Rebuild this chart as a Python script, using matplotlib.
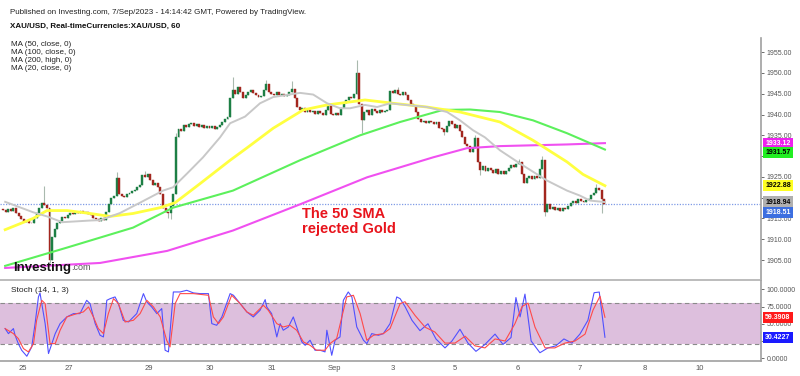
import numpy as np
import matplotlib.pyplot as plt

plt.rcParams['font.family'] = ['Liberation Sans', 'DejaVu Sans']

# ---- data (x = hourly bar index) ----
first_open = 1917.3
closes = [
    1917.0, 1916.5, 1917.2, 1916.8, 1917.5, 1916.2, 1915.5, 1914.8, 1914.2, 1914.5,
    1914.0, 1913.8, 1915.0, 1916.2, 1917.5, 1918.6, 1918.2, 1917.5, 1905.0, 1910.5,
    1912.5, 1913.8, 1914.5, 1915.3, 1915.0, 1915.8, 1916.2, 1916.0, 1916.5, 1916.2,
    1916.8, 1916.3, 1916.6, 1916.0, 1915.8, 1915.2, 1914.8, 1914.5, 1915.0, 1914.6,
    1916.5, 1918.5, 1920.0, 1920.5, 1924.8, 1921.0, 1920.5, 1920.2, 1920.8, 1921.2,
    1921.5, 1921.8, 1922.5, 1923.0, 1925.5, 1925.0, 1925.6, 1924.2, 1923.0, 1923.6,
    1922.5, 1920.8, 1917.5, 1916.5, 1916.2, 1918.0, 1921.0, 1934.5, 1936.5, 1936.0,
    1937.5, 1937.0, 1937.8, 1938.0, 1937.2, 1937.6, 1937.0, 1937.4, 1936.8, 1937.3,
    1936.8, 1937.2, 1936.5, 1937.0, 1937.5, 1938.2, 1939.0, 1939.4, 1944.0, 1946.0,
    1945.0, 1946.5, 1945.5, 1944.0, 1944.6, 1945.5, 1946.0, 1945.2, 1944.8, 1944.2,
    1944.5, 1946.0, 1947.3, 1945.5, 1945.0, 1944.8, 1945.3, 1944.6, 1945.0, 1944.4,
    1944.8, 1945.5, 1946.2, 1944.0, 1941.8, 1941.0, 1941.5, 1940.5, 1941.0, 1940.5,
    1940.8, 1940.2, 1940.9, 1940.4, 1940.0, 1941.0, 1942.6, 1940.2, 1939.8, 1940.4,
    1940.0, 1941.5, 1942.8, 1943.5, 1944.2, 1944.0, 1945.0, 1950.0, 1942.5, 1938.6,
    1940.5, 1941.2, 1940.0, 1941.3, 1940.8, 1940.3, 1941.0, 1940.6, 1940.9, 1941.2,
    1945.6, 1945.2, 1945.8, 1945.0, 1944.8, 1945.3, 1944.6, 1943.5, 1942.6, 1942.0,
    1940.5, 1938.8, 1938.3, 1938.5, 1938.0, 1938.4, 1938.1, 1937.8, 1938.2, 1936.8,
    1936.5, 1935.7, 1937.2, 1938.4, 1937.8, 1936.8, 1937.5, 1936.0, 1934.5, 1933.0,
    1932.4, 1931.0, 1932.0, 1934.3, 1928.5, 1926.6, 1927.5, 1926.5, 1927.2, 1926.6,
    1926.0, 1926.8, 1925.8, 1926.4, 1925.6, 1926.5, 1927.2, 1927.8, 1927.4, 1928.0,
    1928.6, 1925.8, 1923.6, 1924.8, 1925.3, 1924.6, 1925.2, 1924.8, 1927.0, 1929.0,
    1916.6, 1918.4, 1917.2, 1917.8, 1917.0, 1917.6, 1916.8, 1917.5, 1917.2, 1917.9,
    1918.6, 1919.2, 1918.8, 1919.6, 1919.3, 1919.0, 1919.4, 1919.8, 1920.6, 1921.2,
    1922.3, 1921.8, 1919.6, 1918.5,
]

# the longer wicks that stand out
wick_idx = [16, 18, 44, 55, 64, 65, 67, 89, 102, 112, 137, 139, 153, 171, 183, 185, 200, 209, 210, 230, 232]
wick_high = [1922.7, None, 1926.1, 1926.5, None, None, 1935.5, 1949.0, 1948.2, 1948.0, 1953.1, None,
             1946.5, None, 1935.0, None, 1929.2, 1930.0, None, 1923.4, None]
wick_low = [None, 1904.3, None, None, 1915.0, 1914.8, None, None, None, None, None, 1935.5,
            None, 1935.0, None, 1925.5, None, None, 1915.5, None, 1916.4]

# moving averages
ma20_x = [0.8, 11.6, 17, 22.9, 33.7, 37.6, 42.6, 45.3, 53.1, 62, 65.9, 71.3, 77.5, 84.1, 88, 93.8, 99.6,
          104.7, 115.1, 120.2, 125.6, 130.6, 134.5, 140.3, 145, 150, 164.3, 172.1, 177.1, 182.2, 186.8,
          192.6, 200.4, 210.9, 218.6, 223.6, 227.5, 233.3]
ma20_y = [1919.0, 1916.5, 1915.5, 1914.1, 1914.5, 1914.6, 1915.7, 1916.3, 1918.8, 1921.7, 1922.5, 1925.8,
          1929.7, 1934.5, 1937.9, 1939.5, 1942.7, 1944.2, 1945.2, 1944.8, 1942.7, 1941.5, 1941.5, 1942.3,
          1941.8, 1942.7, 1941.8, 1940.6, 1938.6, 1936.2, 1934.5, 1931.4, 1928.2, 1924.1, 1921.7, 1920.5,
          1919.3, 1918.94]
ma50_x = [0.8, 11.6, 17, 24.8, 33.7, 41.5, 50.4, 60.9, 66.7, 76.4, 88, 94.6, 104.7, 116.3, 125.6, 140.3,
          151.2, 164.3, 177.1, 192.6, 205.4, 218.6, 224.8, 233.3]
ma50_y = [1912.3, 1915.0, 1916.9, 1916.9, 1916.2, 1915.5, 1916.2, 1917.6, 1918.8, 1923.4, 1929.0, 1932.0,
          1936.7, 1941.1, 1942.3, 1943.5, 1942.7, 1941.8, 1940.6, 1938.2, 1933.8, 1928.6, 1925.6, 1922.88]
ma100_x = [0.8, 24.8, 50.4, 65.9, 89.1, 115.1, 138.4, 153.9, 170.5, 181, 192.6, 205.4, 218.6, 233.3]
ma100_y = [1903.6, 1908.0, 1912.8, 1917.6, 1921.7, 1929.0, 1935.0, 1938.2, 1941.1, 1941.2, 1940.6, 1938.6,
           1935.5, 1931.57]
ma200_x = [0.8, 37.6, 63.6, 89.1, 115.1, 141.1, 166.7, 179.8, 192.6, 218.6, 233.3]
ma200_y = [1903.1, 1904.3, 1907.2, 1912.1, 1918.4, 1924.9, 1929.7, 1931.9, 1932.4, 1932.8, 1933.12]

# stochastic %K (blue) and %D (red)
k_x = [0.78, 2.07, 4.0, 4.65, 5.9, 7.2, 9.2, 11.1, 12.4, 13.7, 14.3, 16.3, 17.6, 18.9, 20.2, 22.1, 24.7,
       27.3, 29.8, 32.4, 33.7, 35.7, 37.6, 38.9, 40.2, 41.5, 43.4, 44.7, 46.6, 48.6, 51.8, 54.4, 55.7,
       57.6, 59.6, 61.5, 62.8, 64.1, 66, 68.6, 71.2, 73.8, 76.4, 79.6, 80.9, 82.8, 84.8, 88, 89.3, 91.9,
       94.5, 97, 99.6, 101.6, 102.2, 104.1, 106.1, 107.4, 108.6, 110.6, 112.5, 113.8, 115.8, 117.1, 119,
       120.9, 122.9, 124.8, 125.5, 127.4, 128.7, 130.6, 131.9, 133.8, 135.2, 137.1, 139.7, 141, 142.9,
       145.5, 147.4, 150, 152.6, 153.9, 155.8, 158.5, 161.6, 164.7, 167.8, 171.3, 174, 177.1, 180.2,
       183.3, 186.8, 190.7, 193.8, 196.9, 198.8, 200.4, 202.3, 204.7, 208.1, 211.2, 214.3, 217.4, 220.5,
       223.6, 226.7, 229.1, 231.1, 233.3]
k_y = [43, 35.7, 43, 33.3, 21.2, 11.6, 2.9, 16.4, 50.2, 88.9, 94.7, 50.2, 6.8, 21.2, 35.7, 50.2, 59.9,
       64.7, 64.7, 84, 79.2, 50.2, 33.3, 30.9, 84, 86.4, 88.9, 79.2, 55, 52.6, 64.7, 93.7, 81.6, 74.4,
       64.7, 72, 11.6, 9.2, 96.1, 96.1, 98.5, 94.7, 93.7, 93.7, 50.2, 47.8, 59.9, 93.7, 91.3, 79.2, 67.1,
       59.9, 69.5, 85, 74.4, 64.7, 30.9, 50.2, 40.6, 45.4, 59.9, 45.4, 23.7, 18.8, 26.1, 11.6, 11.6, 9.2,
       40.6, 4.3, 26.1, 30.9, 84, 96.1, 88.9, 45.4, 26.1, 21.2, 35.7, 33.3, 35.7, 50.2, 88.9, 86.4, 75,
       55, 40, 50, 28, 15, 25, 42, 22, 10, 20, 35, 20, 30, 88, 60, 93, 25, 8, 15, 18, 28, 22, 35, 55, 95,
       96, 30.4227]
d_x = [0.78, 4.0, 5.9, 7.9, 9.8, 11.8, 13.0, 15, 16.3, 18.2, 20.2, 22.1, 24.7, 28.6, 31.1, 33.1, 35,
       36.9, 38.9, 40.8, 42.8, 44.7, 47.3, 50.5, 53.1, 55.7, 58.3, 60.9, 63.4, 64.7, 66.7, 68.6, 73.8,
       79.6, 81.5, 83.5, 85.4, 88.6, 91.9, 94.5, 97, 100.9, 102.8, 106.1, 108.6, 111.2, 113.8, 116.4,
       119, 121.5, 124.8, 126.7, 129.3, 133.2, 135.8, 138.4, 141, 143.6, 147.4, 150, 153.9, 155.8, 159.7,
       163.6, 167.4, 171.3, 175.2, 179.1, 182.9, 186.8, 190.7, 194.6, 198.4, 201.2, 203.5, 206.2, 210.1,
       213.9, 217.8, 221.7, 225.6, 228.7, 231.4, 233.3]
d_y = [43, 35.7, 28.5, 14, 9.2, 21.2, 55, 84, 79.2, 21.2, 21.2, 40.6, 59.9, 64.7, 67.1, 74.4, 59.9, 43,
       35.7, 64.7, 86.4, 79.2, 52.6, 55, 64.7, 84, 74.4, 59.9, 26.1, 16.4, 79.2, 93.7, 93.7, 91.3, 59.9,
       50.2, 59.9, 91.3, 79.2, 67.1, 62.3, 76.8, 69.5, 50.2, 45.4, 47.8, 40.6, 23.7, 18.8, 11.6, 11.6,
       21.2, 28.5, 88.9, 91.3, 64.7, 26.1, 33.3, 35.7, 43, 79.2, 82, 62, 45, 38, 22, 22, 32, 18, 15, 28,
       25, 50, 75, 80, 45, 15, 15, 22, 25, 35, 70, 90, 59.3908]

tick_pos = [7.5, 25.3, 56.3, 80.2, 104.1, 128.3, 151.1, 175.2, 199.5, 223.6, 248.9, 270.2]
tick_lab = ['25', '27', '29', '30', '31', 'Sep', '3', '5', '6', '7', '8', '10']

price_ticks = [1905, 1910, 1915, 1920, 1925, 1930, 1935, 1940, 1945, 1950, 1955]
stoch_ticks = [0, 25, 50, 75, 100]

last_price = 1918.51

# ---- figure ----
fig = plt.figure(figsize=(8, 3.76), dpi=100)
W, H = 800, 376
ax = fig.add_axes([0, 1 - 280 / H, 761 / W, (280 - 38) / H])
ax2 = fig.add_axes([0, 1 - 361 / H, 761 / W, (361 - 281) / H])

opens = [first_open] + closes[:-1]
highs = [max(o, c) for o, c in zip(opens, closes)]
lows = [min(o, c) for o, c in zip(opens, closes)]
for j, i in enumerate(wick_idx):
    if wick_high[j] is not None:
        highs[i] = wick_high[j]
    if wick_low[j] is not None:
        lows[i] = wick_low[j]

x = np.arange(len(closes))
up_col, dn_col = '#1d7f45', '#a3261e'
ax.vlines(x, lows, highs, color='#a9b9ae', lw=0.8, zorder=2)
for i in range(len(closes)):
    o, c = opens[i], closes[i]
    col = up_col if c >= o else dn_col
    ax.bar(i, max(abs(c - o), 0.15), bottom=min(o, c), width=0.75,
           color=col, edgecolor=col, lw=0.3, zorder=3)

ax.plot(ma200_x, ma200_y, color='#f050f0', lw=1.5, zorder=4)
ax.plot(ma100_x, ma100_y, color='#5cf05c', lw=1.5, zorder=4)
ax.plot(ma50_x, ma50_y, color='#ffff40', lw=2.0, zorder=4)
ax.plot(ma20_x, ma20_y, color='#c8c8c8', lw=1.4, zorder=4)
ax.axhline(last_price, color='#7f9be6', lw=0.9, ls=(0, (1, 1.2)), zorder=1)

ax.set_xlim(-1.2, 293.8)
ax.set_ylim(1900.2, 1958.4)
ax.set_yticks(price_ticks)
# labels that sit under the value tags are hidden, as in the source
ax.set_yticklabels(['' if v in (1920, 1930) else '%.2f' % v for v in price_ticks])
ax.yaxis.tick_right()
ax.tick_params(axis='y', length=2.5, pad=1.5, labelsize=5, colors='#555555', width=0.6)
ax.set_xticks([])
for s in ['top', 'left']:
    ax.spines[s].set_visible(False)
ax.spines['right'].set_color('#a0a0a0')
ax.spines['right'].set_linewidth(1.2)
ax.spines['bottom'].set_color('#b0b0b0')
ax.spines['bottom'].set_linewidth(1.2)

# value tags on the price axis
tags = [(ma200_y[-1], 0, '#ee22ee', 'white'), (ma100_y[-1], -0.8, '#22ee22', 'black'),
        (ma50_y[-1], 0, '#ffff22', 'black'), (ma20_y[-1], 0, '#b0b0b0', 'black'),
        (last_price, -2.0, '#3c6fe0', 'white')]
for val, shift, bg, fg in tags:
    ax.annotate('%.2f' % val, xy=(1, val + shift), xycoords=('axes fraction', 'data'),
                xytext=(3, 0), textcoords='offset points', va='center', ha='left',
                fontsize=5, fontweight='bold', color=fg, annotation_clip=False, zorder=10,
                bbox=dict(boxstyle='square,pad=0.3', fc=bg, ec='none'))

ax.text(0.397, (280 - 207) / 242, 'The 50 SMA\nrejected Gold', transform=ax.transAxes, color='#e8141c',
        fontsize=10.5, fontweight='bold', va='top', ha='left', linespacing=1.1)

logo = ax.text(13 / 761, (280 - 268) / 242, 'Investing', transform=ax.transAxes, fontsize=9.5,
               fontweight='bold', color='#141414', va='center', ha='left', zorder=6)
ax.annotate('.com', xy=(1, 0.18), xycoords=logo, fontsize=6.5, color='#555555', va='bottom', ha='left')

# stochastic panel
ax2.axhspan(20, 80, color='#ddbfdd', lw=0, zorder=0)
ax2.axhline(80, color='#8a8a8a', lw=0.8, ls=(0, (4, 3)), zorder=1)
ax2.axhline(20, color='#8a8a8a', lw=0.8, ls=(0, (4, 3)), zorder=1)
ax2.plot(k_x, k_y, color='#5050ff', lw=0.8, zorder=3)
ax2.plot(d_x, d_y, color='#ff4a4a', lw=0.8, zorder=3)
ax2.set_xlim(-1.2, 293.8)
ax2.set_ylim(-4, 112)
ax2.set_yticks(stoch_ticks)
ax2.set_yticklabels(['' if v == 25 else '%.4f' % v for v in stoch_ticks])
ax2.yaxis.tick_right()
ax2.tick_params(axis='y', length=2.5, pad=1.5, labelsize=5, colors='#555555', width=0.6)
ax2.set_xticks(tick_pos)
ax2.set_xticklabels(tick_lab)
ax2.tick_params(axis='x', length=0, pad=3, labelsize=5.5, colors='#555555')
for s in ['top', 'left']:
    ax2.spines[s].set_visible(False)
for s in ['right', 'bottom']:
    ax2.spines[s].set_color('#a0a0a0')
    ax2.spines[s].set_linewidth(1.2)
ax2.text(11 / 761, (361 - 291) / 80, 'Stoch (14, 1, 3)', transform=ax2.transAxes, fontsize=6,
         color='#222222', va='center', ha='left')
for val, bg in [(d_y[-1], '#ff1a1a'), (k_y[-1], '#1a1aff')]:
    ax2.annotate('%.4f' % val, xy=(1, val), xycoords=('axes fraction', 'data'),
                 xytext=(3, 0), textcoords='offset points', va='center', ha='left',
                 fontsize=5, fontweight='bold', color='white', annotation_clip=False, zorder=10,
                 bbox=dict(boxstyle='square,pad=0.3', fc=bg, ec='none'))

# header
fig.text(10 / W, 1 - 12 / H, 'Published on Investing.com, 7/Sep/2023 - 14:14:42 GMT, Powered by TradingView.',
         fontsize=5.8, color='#222222', va='center')
fig.text(10 / W, 1 - 26 / H, 'XAU/USD, Real-timeCurrencies:XAU/USD, 60', fontsize=5.8,
         fontweight='bold', color='#111111', va='center')
ma_names = ['MA (50, close, 0)', 'MA (100, close, 0)', 'MA (200, high, 0)', 'MA (20, close, 0)']
for k, name in enumerate(ma_names):
    fig.text(11 / W, 1 - (45 + 7.8 * k) / H, name, fontsize=5.8, color='#222222', va='center')

plt.savefig('out.png', dpi=100)
